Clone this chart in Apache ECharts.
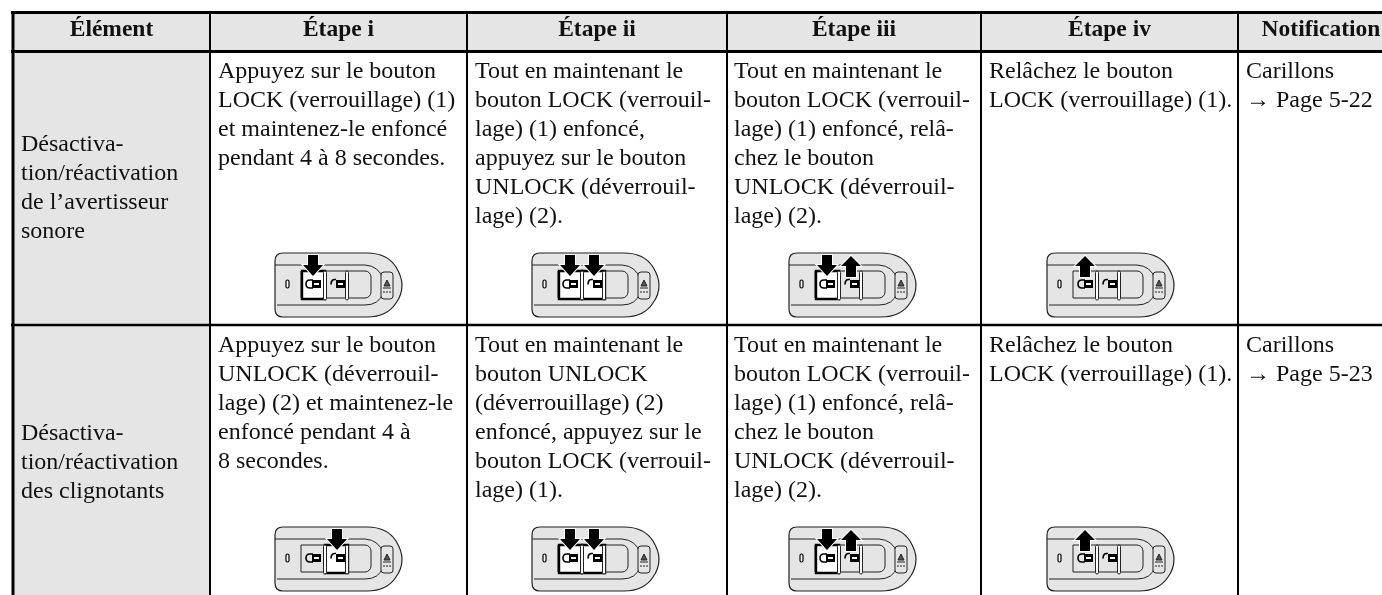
<!DOCTYPE html>
<html><head><meta charset="utf-8">
<style>html,body{margin:0;padding:0;background:#fff}#c{width:1382px;height:595px}</style>
<script src="https://cdn.jsdelivr.net/npm/echarts@6/dist/echarts.min.js"></script></head>
<body><div id="c"></div>
<script>
const headers = ['Élément','Étape i','Étape ii','Étape iii','Étape iv','Notification'];
const rowNames = [
  ['Désactiva-','tion/réactivation','de l’avertisseur','sonore'],
  ['Désactiva-','tion/réactivation','des clignotants']
];
const row1Steps = [
  ['Appuyez sur le bouton','LOCK (verrouillage) (1)','et maintenez-le enfoncé','pendant 4 à 8 secondes.'],
  ['Tout en maintenant le','bouton LOCK (verrouil-','lage) (1) enfoncé,','appuyez sur le bouton','UNLOCK (déverrouil-','lage) (2).'],
  ['Tout en maintenant le','bouton LOCK (verrouil-','lage) (1) enfoncé, relâ-','chez le bouton','UNLOCK (déverrouil-','lage) (2).'],
  ['Relâchez le bouton','LOCK (verrouillage) (1).'],
  ['Carillons','→ Page 5-22']
];
const row2Steps = [
  ['Appuyez sur le bouton','UNLOCK (déverrouil-','lage) (2) et maintenez-le','enfoncé pendant 4 à','8 secondes.'],
  ['Tout en maintenant le','bouton UNLOCK','(déverrouillage) (2)','enfoncé, appuyez sur le','bouton LOCK (verrouil-','lage) (1).'],
  ['Tout en maintenant le','bouton LOCK (verrouil-','lage) (1) enfoncé, relâ-','chez le bouton','UNLOCK (déverrouil-','lage) (2).'],
  ['Relâchez le bouton','LOCK (verrouillage) (1).'],
  ['Carillons','→ Page 5-23']
];
// button action on each fob: [lock, unlock]; 1 = press, -1 = release, 0 = idle
const row1Fobs = [[1,0],[1,1],[1,-1],[-1,0]];
const row2Fobs = [[0,1],[1,1],[1,-1],[-1,0]];

const colEdges = [13,210,467,727,981,1238,1404];
const rowEdges = [12.5,51.5,325,620];
const textX = [21,218,475,734,989,1246];
const fobX = [275,532,789,1047];
const fobY = [253,527];
const FONT = '"Liberation Serif","Times New Roman",serif';
const LH = 29, BODY = 24, HEAD = 23.5, GREY = '#e5e5e5', INK = '#111';

const xy = (api,x,y)=>api.coord([x,y]);

function bgItem(params, api){
  const c = api.value(0), r = api.value(1);
  const a = xy(api,colEdges[c],rowEdges[r]), b = xy(api,colEdges[c+1],rowEdges[r+1]);
  return {type:'rect',shape:{x:a[0],y:a[1],width:b[0]-a[0],height:b[1]-a[1]},style:{fill:GREY}};
}
function textItem(params, api){
  const t = textCells[params.dataIndex];
  const p = xy(api,t.x,t.y);
  return {type:'text',style:{x:p[0],y:p[1],text:t.text,
    font:(t.bold?'bold ':'')+t.size+'px '+FONT,fill:INK,textAlign:t.align,textVerticalAlign:'middle'}};
}
function arrow(cx,dir){
  const s = dir>0
    ? `M${cx-5} 2L${cx+5} 2L${cx+5} 12L${cx+10} 12L${cx} 23L${cx-10} 12L${cx-5} 12Z`
    : `M${cx} 3L${cx+10} 13L${cx+5} 13L${cx+5} 24L${cx-5} 24L${cx-5} 13L${cx-10} 13Z`;
  return {type:'path',shape:{pathData:s,x:cx-10,y:dir>0?2:3,width:20,height:21},
          style:{fill:'#000',stroke:'#fff',lineWidth:2,strokeFirst:true}};
}
function fobItem(params, api){
  const p = xy(api,api.value(0),api.value(1));
  const st = fobStates[params.dataIndex];
  const ink = {stroke:'#222',lineWidth:1};
  const kids = [
    {type:'path',shape:{pathData:'M0 8Q0 0 8 0L92 0Q112 0 121 14Q127 24 127 32Q127 42 121 50Q112 64 92 64L8 64Q0 64 0 56Z',x:0,y:0,width:127,height:64},
      style:{fill:GREY,stroke:'#222',lineWidth:1.2}},
    {type:'path',shape:{pathData:'M0 12L90 12Q104 13 108 26L108 40Q104 52 90 52L2 52',x:0,y:12,width:108,height:40},
      style:{fill:'none',...ink}},
    {type:'rect',shape:{x:26,y:18,width:70,height:27,r:[0,6,6,0]},style:{fill:GREY,...ink}},
    {type:'rect',shape:{x:106,y:19,width:12,height:27,r:3},style:{fill:GREY,...ink}},
    {type:'rect',shape:{x:11,y:27,width:3,height:8,r:1.5},style:{fill:'#fff',stroke:'#000',lineWidth:1.2}},
    {type:'path',shape:{pathData:'M112 27L115 33L109 33ZM108 35L116 35M109 38L109 40M112 38L112 40M115 38L115 40',x:108,y:27,width:8,height:13},
      style:{fill:'#555',stroke:'#222',lineWidth:1}}
  ];
  if(st[0]>0) kids.push({type:'rect',shape:{x:27,y:18,width:23,height:28},style:{fill:'#fff',stroke:'#000',lineWidth:2.4}});
  if(st[1]>0) kids.push({type:'rect',shape:{x:50,y:18,width:23,height:28},style:{fill:'#fff',stroke:'#000',lineWidth:2.4}});
  [50,72].forEach(x=>kids.push({type:'rect',shape:{x:x-1.5,y:18,width:3,height:29,r:1.5},style:{fill:'#fff',stroke:'#222',lineWidth:1}}));
  // closed padlock
  kids.push({type:'path',shape:{pathData:'M38 27L35 27Q31 27 31 31Q31 35 35 35L38 35',x:31,y:27,width:7,height:8},style:{fill:'none',stroke:'#000',lineWidth:1.6}});
  kids.push({type:'rect',shape:{x:37,y:27,width:9,height:8},style:{fill:'#000'}});
  kids.push({type:'rect',shape:{x:39,y:30,width:5,height:2},style:{fill:'#fff'}});
  // open padlock
  kids.push({type:'path',shape:{pathData:'M56 32Q56 26 61 27',x:56,y:26,width:5,height:6},style:{fill:'none',stroke:'#000',lineWidth:1.6}});
  kids.push({type:'rect',shape:{x:61,y:27,width:9,height:8},style:{fill:'#000'}});
  kids.push({type:'rect',shape:{x:63,y:30,width:5,height:2},style:{fill:'#fff'}});
  if(st[0]) kids.push(arrow(38,st[0]));
  if(st[1]) kids.push(arrow(62,st[1]));
  return {type:'group',x:p[0],y:p[1],children:kids};
}

// build tables for the library
const bgCells = [[0,0],[1,0],[2,0],[3,0],[4,0],[5,0],[0,1],[0,2]];
const textCells = [];
headers.forEach((h,c)=>textCells.push({x:(colEdges[c]+colEdges[c+1])/2,y:30,text:h,bold:true,size:HEAD,align:'center'}));
const nameTop = [144.5,434];
rowNames.forEach((lines,r)=>lines.forEach((t,i)=>textCells.push({x:textX[0],y:nameTop[r]+i*LH,text:t,size:BODY,align:'left'})));
[row1Steps,row2Steps].forEach((row,r)=>row.forEach((lines,c)=>lines.forEach((t,i)=>
  textCells.push({x:textX[c+1],y:[71.5,345.5][r]+i*LH,text:t,size:BODY,align:'left'}))));
const fobData = [], fobStates = [];
[row1Fobs,row2Fobs].forEach((row,r)=>row.forEach((st,c)=>{fobData.push([fobX[c],fobY[r]]);fobStates.push(st);}));

// rule lines
const lines = [
  [11,12.5,1382,12.5,3],[11,51.5,1382,51.5,3],[11,325,1382,325,2.5],
  [13,11,13,595,3]
];
[210,467,727,981,1238].forEach(x=>lines.push([x,12,x,595,2]));
function lineItem(params, api){
  const l = lines[params.dataIndex];
  const a = xy(api,l[0],l[1]), b = xy(api,l[2],l[3]);
  return {type:'line',shape:{x1:a[0],y1:a[1],x2:b[0],y2:b[1]},style:{stroke:'#000',lineWidth:l[4]}};
}

const chart = echarts.init(document.getElementById('c'),null,{renderer:'canvas'});
chart.setOption({
  animation:false,
  grid:{left:0,right:0,top:0,bottom:0},
  xAxis:{type:'value',min:0,max:1382,show:false},
  yAxis:{type:'value',min:0,max:595,inverse:true,show:false},
  series:[
    {type:'custom',clip:true,data:bgCells,renderItem:bgItem,encode:{x:0,y:1},silent:true,z:1},
    {type:'custom',clip:true,data:lines.map(l=>l.slice(0,2)),renderItem:lineItem,encode:{x:0,y:1},silent:true,z:2},
    {type:'custom',clip:true,data:fobData,renderItem:fobItem,encode:{x:0,y:1},silent:true,z:3},
    {type:'custom',clip:true,data:textCells.map(t=>[t.x,t.y]),renderItem:textItem,encode:{x:0,y:1},silent:true,z:4}
  ]
});
</script></body></html>
